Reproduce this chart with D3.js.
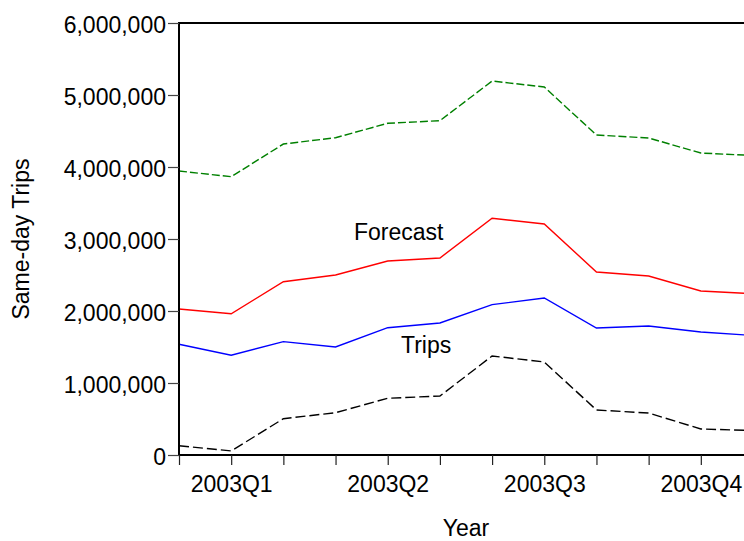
<!DOCTYPE html>
<html lang="en">
<head>
    <meta charset="UTF-8">
    <title>Same-day Trips</title>
    <script src="https://d3js.org/d3.v7.min.js"></script>
</head>

<style type="text/css">
    body {
        margin: 0;
        background-color: white;
    }

    text {
        font-family: "Liberation Sans", Arial, sans-serif;
        fill: black;
    }
</style>
<body>
<div id="chart"></div>

<script>
    var width = 744;
    var height = 541;

    // monthly periods, labelled by quarter
    var periods = ["2003M01", "2003M02", "2003M03", "2003M04", "2003M05", "2003M06",
        "2003M07", "2003M08", "2003M09", "2003M10", "2003M11", "2003M12"];
    var periodLabels = ["", "2003Q1", "", "", "2003Q2", "", "", "2003Q3", "", "", "2003Q4", ""];

    var upper = [3944000, 3865000, 4319000, 4407000, 4607000, 4643000,
        5194000, 5111000, 4444000, 4403000, 4194000, 4160000];
    var forecast = [2028000, 1962000, 2407000, 2500000, 2694000, 2736000,
        3288000, 3208000, 2542000, 2486000, 2278000, 2240000];
    var trips = [1538000, 1385000, 1574000, 1500000, 1768000, 1833000,
        2088000, 2181000, 1764000, 1792000, 1708000, 1660000];
    var lower = [129000, 56000, 504000, 588000, 788000, 819000,
        1375000, 1292000, 625000, 583000, 361000, 340000];

    var yTicks = [0, 1000000, 2000000, 3000000, 4000000, 5000000, 6000000];

    // plot box (window.top is reserved, so prefixed names)
    var plotLeft = 179, plotRight = 753, plotTop = 23, plotBottom = 455;

    var svg = d3.select("#chart").append("svg")
        .attr("width", width)
        .attr("height", height);

    var x = d3.scalePoint().domain(periods).range([plotLeft, plotRight]);
    var y = d3.scaleLinear().domain([0, 6000000]).range([plotBottom, plotTop]);

    var series = [
        {values: upper, color: "#008000", dash: "8,3"},
        {values: forecast, color: "#ff0000", dash: null},
        {values: trips, color: "#0000ff", dash: null},
        {values: lower, color: "#000000", dash: "10,4"}
    ];

    var line = d3.line()
        .x(function (d, i) { return x(periods[i]); })
        .y(function (d) { return y(d); });

    svg.selectAll(".series").data(series).enter()
        .append("path")
        .attr("class", "series")
        .attr("d", function (d) { return line(d.values); })
        .style("fill", "none")
        .style("stroke", function (d) { return d.color; })
        .style("stroke-width", 1.4)
        .style("stroke-dasharray", function (d) { return d.dash; });

    // frame
    svg.append("rect")
        .attr("x", plotLeft)
        .attr("y", plotTop)
        .attr("width", plotRight - plotLeft)
        .attr("height", plotBottom - plotTop)
        .style("fill", "none")
        .style("stroke", "black")
        .style("stroke-width", 2);

    // y axis
    var yAxis = svg.append("g")
        .attr("transform", "translate(" + plotLeft + ",0)")
        .call(d3.axisLeft(y).tickValues(yTicks).tickFormat(d3.format(",")).tickSize(11).tickPadding(2));
    yAxis.select(".domain").remove();
    yAxis.selectAll(".tick line").style("stroke", "#444").style("stroke-width", 1.2);
    yAxis.selectAll(".tick text")
        .attr("dy", "0.43em")
        .style("font-size", "23px")
        .style("font-family", "'Liberation Sans', Arial, sans-serif")
        .style("fill", "black");

    // x axis
    var xAxis = svg.append("g")
        .attr("transform", "translate(0," + plotBottom + ")")
        .call(d3.axisBottom(x).tickFormat(function (d, i) { return periodLabels[i]; }).tickSize(10).tickPadding(11));
    xAxis.select(".domain").remove();
    xAxis.selectAll(".tick line").style("stroke", "#222").style("stroke-width", 1.2);
    xAxis.selectAll(".tick text")
        .attr("y", 21)
        .style("font-size", "23px")
        .style("font-family", "'Liberation Sans', Arial, sans-serif")
        .style("fill", "black");

    // axis titles
    svg.append("text")
        .attr("x", 466)
        .attr("y", 536)
        .style("text-anchor", "middle")
        .style("font-size", "23px")
        .text("Year");

    svg.append("text")
        .attr("transform", "translate(29," + ((plotTop + plotBottom) / 2) + ") rotate(-90)")
        .style("text-anchor", "middle")
        .style("font-size", "23px")
        .text("Same-day Trips");

    // series labels
    svg.append("text")
        .attr("x", 354)
        .attr("y", 240)
        .style("font-size", "23px")
        .text("Forecast");

    svg.append("text")
        .attr("x", 401)
        .attr("y", 353)
        .style("font-size", "23px")
        .text("Trips");
</script>

</body>
</html>
